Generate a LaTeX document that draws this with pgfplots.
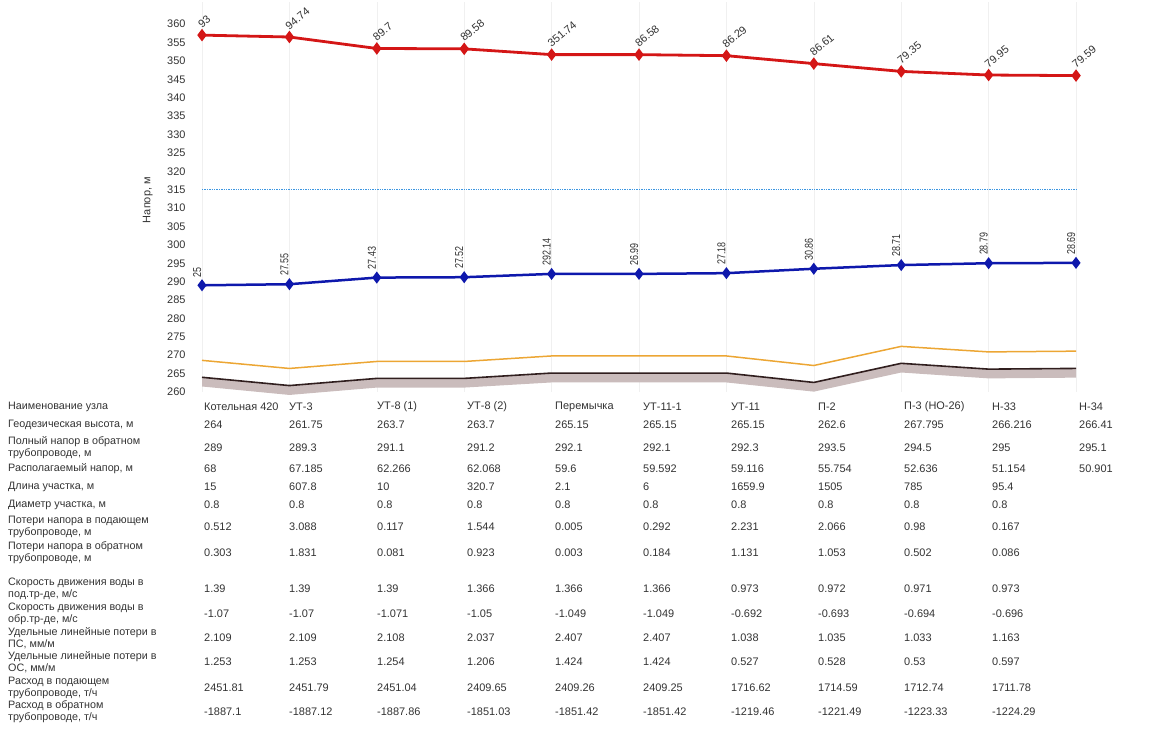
\documentclass[border=0pt]{standalone}
\usepackage{fontspec}
\setmainfont{Liberation Sans}
\newfontfamily\narrowfont[FakeStretch=0.78]{Liberation Sans}
\usepackage{pgfplots}
\usepackage{pgfplotstable}
\pgfplotsset{compat=1.18}
\usepgfplotslibrary{fillbetween}

\definecolor{supplyred}{RGB}{212,22,22}
\definecolor{returnblue}{RGB}{14,24,172}
\definecolor{pieorange}{RGB}{236,166,52}
\definecolor{groundline}{RGB}{48,30,30}
\definecolor{groundfill}{RGB}{202,188,188}
\definecolor{statblue}{RGB}{60,150,225}
\definecolor{lbl}{RGB}{50,50,50}

% supply head (return + available), label as printed
\pgfplotstableread{
x   y        lab
0   357.000  93
1   356.485  94.74
2   353.366  89.7
3   353.268  89.58
4   351.700  351.74
5   351.692  86.58
6   351.416  86.29
7   349.254  86.61
8   347.136  79.35
9   346.154  79.95
10  346.001  79.59
}\supplytab

% return head
\pgfplotstableread{
x   y      lab
0   289.0  25
1   289.3  27.55
2   291.1  27.43
3   291.2  27.52
4   292.1  292.14
5   292.1  26.99
6   292.3  27.18
7   293.5  30.86
8   294.5  28.71
9   295.0  28.79
10  295.1  28.69
}\returntab

% ground (geodesic height), band bottom, orange line
\pgfplotstableread{
x   geo      bot      top
0   264.000  261.5    268.6
1   261.750  259.2    266.4
2   263.700  261.2    268.3
3   263.700  261.2    268.3
4   265.150  262.6    269.8
5   265.150  262.6    269.8
6   265.150  262.6    269.8
7   262.600  260.1    267.2
8   267.795  265.3    272.4
9   266.216  263.7    270.9
10  266.410  263.9    271.1
}\groundtab

% static head line
\pgfplotstableread{
x   y
0   315
10  315
}\stattab

\newcommand\tabrow[3]{%
  \node[rowlab] at (8bp,-#1bp) {#2};
  \foreach \v [count=\i from 0] in {#3} {%
    \pgfmathsetmacro\cx{{204,289,377,467,555,643,731,818,904,992,1079}[\i]}%
    \node[cell] at (\cx bp,-#1bp) {\v};
  }}

\begin{document}
\begin{tikzpicture}[
  rowlab/.style={anchor=west, align=left, inner sep=0pt, text=black!80,
                 font=\fontsize{10.8}{12}\selectfont},
  cell/.style={anchor=west, inner sep=0pt, text=black!80,
               font=\fontsize{11}{12}\selectfont}]
\path (0,0) rectangle (1170bp,-740bp);

\begin{axis}[
  scale only axis,
  width=874bp, height=390bp,
  at={(202bp,-392bp)}, anchor=south west,
  xmin=0, xmax=10, ymin=260, ymax=366,
  clip=false,
  axis line style={draw=none},
  major tick length=0pt,
  xtick={0,...,10}, xticklabels={},
  ytick={260,265,...,360},
  xmajorgrids, grid style={black!6, line width=0.6bp},
  /pgf/number format/assume math mode=true,
  yticklabel style={font=\fontsize{11}{12}\selectfont, text=black!80, xshift=-13bp},
  ylabel={Напор, м},
  ylabel style={at={(axis description cs:-0.062,0.492)}, anchor=center,
                font=\fontsize{11}{12}\selectfont, text=black!80},
]
% ground band
\addplot[name path=geo, draw=none, forget plot] table[x=x, y=geo] {\groundtab};
\addplot[name path=bot, draw=none, forget plot] table[x=x, y=bot] {\groundtab};
\addplot[groundfill, forget plot] fill between[of=geo and bot];
\addplot[groundline, line width=1.6bp] table[x=x, y=geo] {\groundtab};
\addplot[pieorange, line width=1.5bp] table[x=x, y=top] {\groundtab};
% static head
\addplot[statblue, mark=none, line width=1.4bp, dash pattern=on 1.4bp off 1bp]
  table[x=x, y=y] {\stattab};
% return line
\addplot[returnblue, line width=2.5bp, mark=diamond*, mark size=4bp,
  point meta=explicit symbolic, nodes near coords,
  every node near coord/.append style={yshift=7bp, xshift=-1bp, rotate=90,
    anchor=base west, inner sep=0pt, text=lbl,
    font=\narrowfont\fontsize{11.5}{12}\selectfont}]
  table[x=x, y=y, meta=lab] {\returntab};
% supply line
\addplot[supplyred, line width=2.8bp, mark=diamond*, mark size=4bp,
  point meta=explicit symbolic, nodes near coords,
  every node near coord/.append style={yshift=6bp, xshift=-1bp, rotate=40,
    anchor=base west, inner sep=0pt, text=lbl,
    font=\fontsize{11}{12}\selectfont}]
  table[x=x, y=y, meta=lab] {\supplytab};
\end{axis}

\tabrow{407}{Наименование узла}{Котельная 420,УТ-3,УТ-8 (1),УТ-8 (2),Перемычка,УТ-11-1,УТ-11,П-2,П-3 (НО-26),Н-33,Н-34}
\tabrow{425}{Геодезическая высота, м}{264,261.75,263.7,263.7,265.15,265.15,265.15,262.6,267.795,266.216,266.41}
\tabrow{448}{Полный напор в обратном\\трубопроводе, м}{289,289.3,291.1,291.2,292.1,292.1,292.3,293.5,294.5,295,295.1}
\tabrow{469}{Располагаемый напор, м}{68,67.185,62.266,62.068,59.6,59.592,59.116,55.754,52.636,51.154,50.901}
\tabrow{487}{Длина участка, м}{15,607.8,10,320.7,2.1,6,1659.9,1505,785,95.4}
\tabrow{505}{Диаметр участка, м}{0.8,0.8,0.8,0.8,0.8,0.8,0.8,0.8,0.8,0.8}
\tabrow{527}{Потери напора в подающем\\трубопроводе, м}{0.512,3.088,0.117,1.544,0.005,0.292,2.231,2.066,0.98,0.167}
\tabrow{553}{Потери напора в обратном\\трубопроводе, м}{0.303,1.831,0.081,0.923,0.003,0.184,1.131,1.053,0.502,0.086}
\tabrow{589}{Скорость движения воды в\\под.тр-де, м/с}{1.39,1.39,1.39,1.366,1.366,1.366,0.973,0.972,0.971,0.973}
\tabrow{614}{Скорость движения воды в\\обр.тр-де, м/с}{-1.07,-1.07,-1.071,-1.05,-1.049,-1.049,-0.692,-0.693,-0.694,-0.696}
\tabrow{638}{Удельные линейные потери в\\ПС, мм/м}{2.109,2.109,2.108,2.037,2.407,2.407,1.038,1.035,1.033,1.163}
\tabrow{662}{Удельные линейные потери в\\ОС, мм/м}{1.253,1.253,1.254,1.206,1.424,1.424,0.527,0.528,0.53,0.597}
\tabrow{688}{Расход в подающем\\трубопроводе, т/ч}{2451.81,2451.79,2451.04,2409.65,2409.26,2409.25,1716.62,1714.59,1712.74,1711.78}
\tabrow{712}{Расход в обратном\\трубопроводе, т/ч}{-1887.1,-1887.12,-1887.86,-1851.03,-1851.42,-1851.42,-1219.46,-1221.49,-1223.33,-1224.29}
\end{tikzpicture}
\end{document}
